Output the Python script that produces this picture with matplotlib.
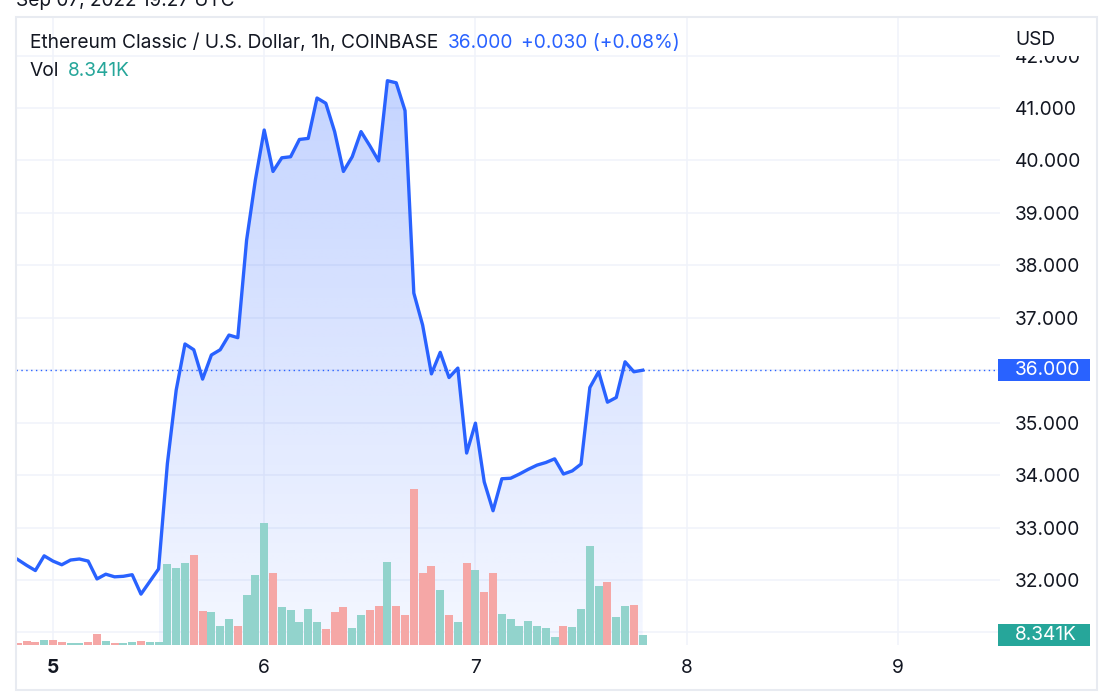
import numpy as np
import pandas as pd
import matplotlib
matplotlib.use("Agg")
import matplotlib.pyplot as plt
import matplotlib.dates as mdates
import matplotlib.transforms as mtransforms
from matplotlib.patches import Rectangle

plt.rcParams['font.family'] = ['Inter', 'DejaVu Sans']

W, H = 1113, 694

# hourly ETC/USD closes (Coinbase), starting Sep 04 20:00 UTC
close = [32.39, 32.28, 32.18, 32.46, 32.36, 32.29, 32.38, 32.40, 32.36, 32.02,
         32.11, 32.06, 32.07, 32.10, 31.73, 31.97, 32.21, 34.22, 35.62, 36.50,
         36.39, 35.83, 36.29, 36.39, 36.67, 36.62, 38.48, 39.63, 40.58, 39.79,
         40.05, 40.07, 40.40, 40.42, 41.19, 41.09, 40.55, 39.79, 40.07, 40.55,
         40.28, 39.99, 41.52, 41.48, 40.95, 37.47, 36.86, 35.93, 36.34, 35.86,
         36.04, 34.42, 34.99, 33.87, 33.32, 33.93, 33.94, 34.02, 34.11, 34.19,
         34.24, 34.31, 34.02, 34.08, 34.21, 35.67, 35.97, 35.39, 35.48, 36.16,
         35.97, 36.00]
prev_close = 32.45

# volume in thousands
volume_k = [1.5, 3.2, 2.3, 4.0, 4.0, 2.3, 1.5, 1.5, 2.3, 9.2,
            3.2, 1.5, 1.5, 2.3, 3.2, 2.3, 2.3, 69.4, 66.0, 70.2,
            77.1, 29.0, 28.1, 16.1, 22.1, 16.1, 42.7, 59.9, 104.6, 61.7,
            32.4, 29.8, 19.5, 30.7, 19.5, 13.5, 28.1, 32.4, 14.4, 25.5,
            29.8, 33.3, 71.1, 33.3, 25.5, 133.9, 61.7, 67.7, 47.0, 25.5,
            19.5, 70.2, 64.2, 45.3, 61.7, 26.4, 22.1, 16.1, 20.4, 16.1,
            14.4, 6.6, 16.1, 15.2, 30.7, 84.9, 50.5, 53.9, 23.8, 33.3,
            34.1, 8.341]

times = pd.date_range("2022-09-04 20:00", periods=len(close), freq="h")
day_ticks = pd.date_range("2022-09-05", periods=5, freq="D")
day_labels = ["5", "6", "7", "8", "9"]
price_ticks = list(range(31, 43))
fill_from = 16          # area fill starts here in the screenshot

blue = '#2962ff'
green = '#26a69a'
txt = '#131722'
grid_c = '#f0f3fa'
fs = 13.8

x = mdates.date2num(times)
hour = 1 / 24
close = np.array(close)
up = np.diff(np.r_[prev_close, close]) >= 0
bar_colors = np.where(up, '#92d3cc', '#f5a7a6')

fig = plt.figure(figsize=(W / 100, H / 100), dpi=100)
fig.patch.set_facecolor('white')

ax = fig.add_axes([16 / W, 1 - 645 / H, (1000 - 16) / W, (645 - 17) / H])
ymin, ymax = 30.76, 42.735
xmin, xmax = x[0] - 0.2 * hour, x[0] + 111.6 * hour

# gradient area under the line
poly = ax.fill_between(x[fill_from:], close[fill_from:], ymin, color='none', lw=0)
rgb = np.array([41, 98, 255]) / 255
grad = np.zeros((256, 1, 4))
grad[..., :3] = rgb
grad[..., 3] = np.linspace(0.05, 0.30, 256).reshape(-1, 1)
im = ax.imshow(grad, extent=[x[fill_from], x[-1], ymin, ymax], origin='lower',
               aspect='auto', interpolation='bilinear', zorder=1)
im.set_clip_path(poly.get_paths()[0], transform=ax.transData)

ax.axhline(close[-1], color=blue, lw=1, ls=(0, (1, 2.5)), zorder=2)

# volume pane
axv = ax.twinx()
axv.set_zorder(2)
axv.set_axis_off()
axv.set_autoscale_on(False)
axv.set_xlim(xmin, xmax)
axv.set_ylim(0, 540)
axv.bar(x, volume_k, width=0.9 * hour, color=bar_colors, lw=0, zorder=2)

ax.set_zorder(1)
ax.set_xlim(xmin, xmax)
ax.set_ylim(ymin, ymax)
ax.set_xticks(mdates.date2num(day_ticks))
ax.set_xticklabels(day_labels)
ax.set_yticks(price_ticks)
ax.set_yticklabels(['' if (v == 31 or v == 36) else f'{v:.3f}' for v in price_ticks])
ax.yaxis.tick_right()
ax.grid(True, color=grid_c, lw=1.1, zorder=0)
ax.set_axisbelow(True)
ax.tick_params(axis='y', length=0, pad=11, labelsize=fs, labelcolor=txt)
ax.tick_params(axis='x', length=0, pad=10, labelsize=fs, labelcolor=txt)
ax.get_xticklabels()[0].set_fontweight('bold')
for s in ax.spines.values():
    s.set_visible(False)

# price line on top of the bars
axv.plot(x, close, color=blue, lw=2.4, solid_joinstyle='round', transform=ax.transData, zorder=3)

# last value tags on the price scale
tr_p = mtransforms.blended_transform_factory(ax.transAxes, ax.transData)
tag_h = 22 / 52.44
ax.add_patch(Rectangle((0.998, close[-1] - tag_h / 2), 0.0935, tag_h, transform=tr_p,
                       fc=blue, ec='none', clip_on=False, zorder=5))
ax.text(1.0 + 15 / 984, close[-1], f'{close[-1]:.3f}', transform=tr_p, color='white',
        fontsize=fs, va='center', ha='left', zorder=6, clip_on=False)
tr_v = mtransforms.blended_transform_factory(axv.transAxes, axv.transData)
vtag_h = 22 / 1.163
axv.add_patch(Rectangle((0.998, volume_k[-1] - vtag_h / 2), 0.0935, vtag_h, transform=tr_v,
                        fc=green, ec='none', clip_on=False, zorder=5))
axv.text(1.0 + 15 / 984, volume_k[-1], f'{volume_k[-1]:.3f}K', transform=tr_v, color='white',
         fontsize=fs, va='center', ha='left', zorder=6, clip_on=False)

# USD header hides the top of the 42.000 label
fig.add_artist(Rectangle((1001 / W, 1 - 56 / H), 95 / W, 38 / H, transform=fig.transFigure,
                         fc='white', ec='none', zorder=7))
fig.text(1015 / W, 1 - 40 / H, 'USD', fontsize=fs, color=txt, va='center', zorder=8)

# outer frame
fig.add_artist(Rectangle((16 / W, 1 - 690 / H), (1097 - 16) / W, (690 - 17) / H,
                         transform=fig.transFigure, fill=False, ec='#e8ebf1', lw=1.5, zorder=9))

# legend texts
fig.text(16 / W, 1 - 6 / H, 'Sep 07, 2022 19:27 UTC', fontsize=13.7, color=txt, va='baseline')
fig.text(30 / W, 1 - 43 / H, 'Ethereum Classic / U.S. Dollar, 1h, COINBASE', fontsize=fs,
         color=txt, va='center')
fig.text(448 / W, 1 - 43 / H, f'{close[-1]:.3f}', fontsize=fs, color=blue, va='center')
fig.text(521 / W, 1 - 43 / H, '+0.030 (+0.08%)', fontsize=fs, color=blue, va='center')
fig.text(30 / W, 1 - 71 / H, 'Vol', fontsize=fs, color=txt, va='center')
fig.text(68 / W, 1 - 71 / H, f'{volume_k[-1]:.3f}K', fontsize=fs, color=green, va='center')

fig.savefig('out.png', dpi=100)
